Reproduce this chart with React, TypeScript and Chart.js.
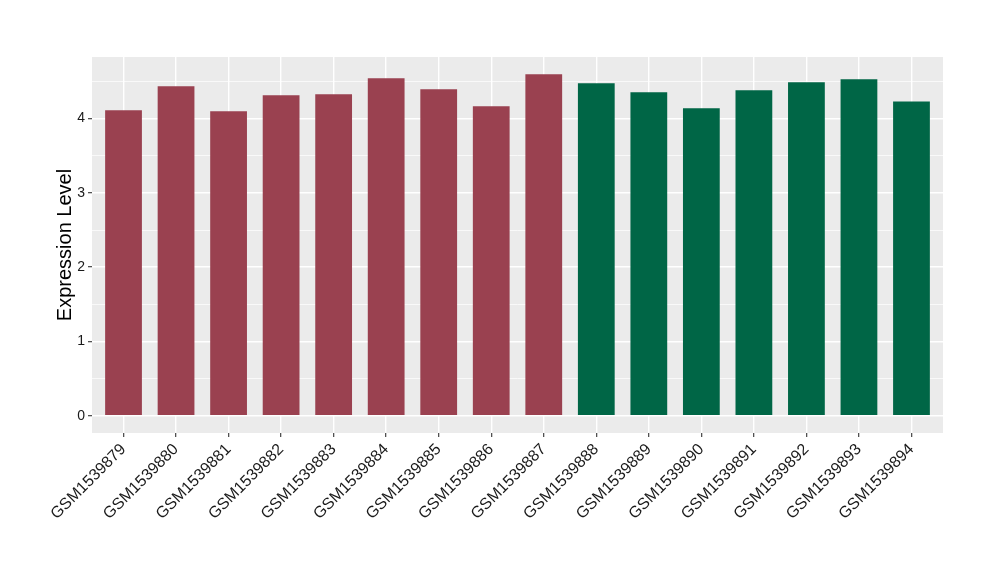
import React, { useEffect, useRef } from "react";
import { Chart, registerables } from "chart.js";

Chart.register(...registerables);

const samples = [
  "GSM1539879", "GSM1539880", "GSM1539881", "GSM1539882", "GSM1539883", "GSM1539884",
  "GSM1539885", "GSM1539886", "GSM1539887", "GSM1539888", "GSM1539889", "GSM1539890",
  "GSM1539891", "GSM1539892", "GSM1539893", "GSM1539894",
];
const expression = [
  4.113, 4.435, 4.099, 4.315, 4.328, 4.543, 4.395, 4.167, 4.597,
  4.476, 4.355, 4.14, 4.382, 4.489, 4.53, 4.23,
];
const groups = [
  "A", "A", "A", "A", "A", "A", "A", "A", "A",
  "B", "B", "B", "B", "B", "B", "B",
];
const groupColors: Record<string, string> = { A: "#9A4150", B: "#006646" };
const yTicks = [0, 0.5, 1, 1.5, 2, 2.5, 3, 3.5, 4, 4.5];
const yTitle = "Expression Level";

const panelBg = {
  id: "panelBg",
  beforeDraw(chart: any) {
    const { ctx, chartArea } = chart;
    ctx.save();
    ctx.fillStyle = "#EBEBEB";
    ctx.fillRect(chartArea.left, chartArea.top, chartArea.right - chartArea.left, chartArea.bottom - chartArea.top);
    ctx.restore();
  },
};

export default function App() {
  const ref = useRef<HTMLCanvasElement>(null);
  useEffect(() => {
    document.body.style.margin = "0";
    const chart = new Chart(ref.current!, {
      type: "bar",
      data: {
        datasets: [
          {
            data: expression.map((v, i) => ({ x: i + 1, y: v })),
            backgroundColor: groups.map((g) => groupColors[g]),
            barPercentage: 0.7,
            categoryPercentage: 1.0,
          } as any,
        ],
      },
      plugins: [panelBg],
      options: {
        animation: false,
        responsive: false,
        maintainAspectRatio: false,
        layout: { padding: { left: 0, top: 57, right: 57, bottom: 0 } },
        plugins: { legend: { display: false }, tooltip: { enabled: false } },
        scales: {
          x: {
            type: "linear",
            min: 0.4,
            max: 16.6,
            offset: false,
            border: { display: false },
            grid: {
              offset: false,
              color: "#FFFFFF",
              lineWidth: 1.4,
              tickLength: 4,
              tickColor: "#333333",
              tickWidth: 1.1,
            },
            afterBuildTicks: (scale: any) => {
              scale.ticks = samples.map((_, i) => ({ value: i + 1 }));
            },
            afterFit: (scale: any) => {
              scale.height = 147;
            },
            ticks: {
              autoSkip: false,
              minRotation: 45,
              maxRotation: 45,
              padding: 3,
              color: "#1A1A1A",
              font: { family: "Liberation Sans", size: 16 },
              callback: (v: any) => samples[Math.round(Number(v)) - 1] ?? "",
            },
          },
          y: {
            type: "linear",
            min: -0.233,
            max: 4.83,
            border: { display: false },
            grid: {
              color: "#FFFFFF",
              lineWidth: (c: any) => (c.tick && c.tick.value % 1 === 0 ? 1.4 : 0.7),
              tickLength: 4,
              tickColor: (c: any) => (c.tick && c.tick.value % 1 === 0 ? "#333333" : "rgba(0,0,0,0)"),
              tickWidth: 1.1,
            },
            afterBuildTicks: (scale: any) => {
              scale.ticks = yTicks.map((v) => ({ value: v }));
            },
            afterFit: (scale: any) => {
              scale.width = 92;
            },
            ticks: {
              padding: 3,
              color: "#1A1A1A",
              font: { family: "Liberation Sans", size: 14 },
              callback: (v: any) => (Number(v) % 1 === 0 ? String(v) : ""),
            },
            title: {
              display: true,
              text: yTitle,
              color: "#000000",
              font: { family: "Liberation Sans", size: 20 },
              padding: { top: 53, bottom: 0 },
            },
          },
        },
      },
    });
    return () => chart.destroy();
  }, []);
  return (
    <div style={{ width: 1000, height: 580, background: "#FFFFFF" }}>
      <canvas ref={ref} width={1000} height={580} style={{ display: "block" }} />
    </div>
  );
}
